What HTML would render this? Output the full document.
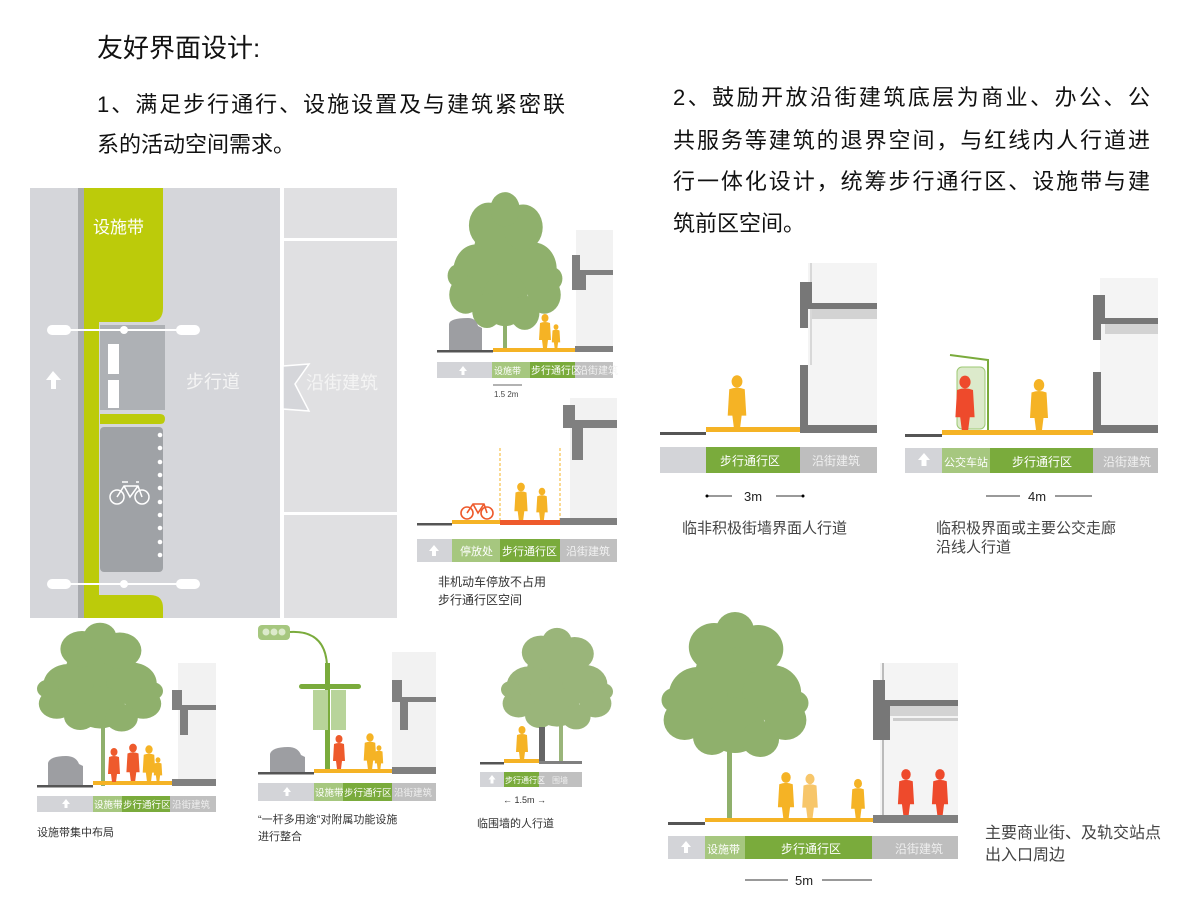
<!DOCTYPE html>
<html><head><meta charset="utf-8"><style>
html,body{margin:0;padding:0;background:#fff;width:1200px;height:900px;overflow:hidden}
svg{display:block}
text{font-family:"Liberation Sans","Noto Sans CJK SC",sans-serif}
</style></head><body>
<svg width="1200" height="900" viewBox="0 0 1200 900" xmlns="http://www.w3.org/2000/svg">
<defs>
<g id="tree">
<circle cx="0" cy="-40" r="38"/><circle cx="-35" cy="-20" r="28"/><circle cx="35" cy="-22" r="28"/>
<circle cx="-20" cy="-68" r="24"/><circle cx="22" cy="-66" r="24"/><circle cx="0" cy="-85" r="18"/><circle cx="-48" cy="5" r="20"/>
<circle cx="48" cy="5" r="20"/><circle cx="-58" cy="-15" r="12"/><circle cx="58" cy="-12" r="12"/><circle cx="0" cy="10" r="28"/><circle cx="-22" cy="22" r="18"/><circle cx="24" cy="24" r="18"/>
</g>
<g id="per"><ellipse cx="0" cy="-30" rx="3.5" ry="4"/><path d="M-5,-25 Q0,-27 5,-25 L6,-8 L3,-8 L2,0 L-2,0 L-3,-8 L-6,-8Z"/></g>
</defs>

<!-- headings -->
<text x="97" y="57" font-size="26" fill="#111">友好界面设计:</text>
<text x="97" y="112" font-size="22" fill="#111" textLength="468">1、满足步行通行、设施设置及与建筑紧密联</text>
<text x="97" y="152" font-size="22" fill="#111">系的活动空间需求。</text>
<text x="673" y="105" font-size="22" fill="#111" textLength="477">2、鼓励开放沿街建筑底层为商业、办公、公</text>
<text x="673" y="148" font-size="22" fill="#111" textLength="477">共服务等建筑的退界空间，与红线内人行道进</text>
<text x="673" y="189" font-size="22" fill="#111" textLength="477">行一体化设计，统筹步行通行区、设施带与建</text>
<text x="673" y="231" font-size="22" fill="#111">筑前区空间。</text>

<!-- plan view -->
<rect x="30" y="188" width="367" height="430" fill="#d5d6da"/>
<rect x="78" y="188" width="6" height="430" fill="#a9abaf"/>
<rect x="84" y="188" width="15" height="430" fill="#bccb0a"/>
<path d="M84,188 H163 V308 Q163,322 150,322 H84Z" fill="#bccb0a"/>
<rect x="100" y="325" width="65" height="85" fill="#aeb1b5"/>
<path d="M100,414 H160 Q165,414 165,419 Q165,424 160,424 H100Z" fill="#bccb0a"/>
<rect x="100" y="427" width="63" height="145" rx="4" fill="#9fa2a6"/>
<path d="M84,595 H150 Q163,595 163,608 V618 H84Z" fill="#bccb0a"/>
<rect x="108" y="344" width="11" height="30" fill="#fff"/>
<rect x="108" y="380" width="11" height="28" fill="#fff"/>
<g fill="#fff"><circle cx="160" cy="435" r="2.3"/><circle cx="160" cy="448" r="2.3"/><circle cx="160" cy="462" r="2.3"/><circle cx="160" cy="475" r="2.3"/><circle cx="160" cy="488" r="2.3"/><circle cx="160" cy="502" r="2.3"/><circle cx="160" cy="515" r="2.3"/><circle cx="160" cy="528" r="2.3"/><circle cx="160" cy="542" r="2.3"/><circle cx="160" cy="555" r="2.3"/></g>
<g stroke="#fff" fill="none"><line x1="50" y1="330" x2="198" y2="330" stroke-width="2"/><line x1="50" y1="584" x2="198" y2="584" stroke-width="2"/></g>
<g fill="#fff"><rect x="47" y="325" width="24" height="10" rx="5"/><rect x="176" y="325" width="24" height="10" rx="5"/><circle cx="124" cy="330" r="4"/>
<rect x="47" y="579" width="24" height="10" rx="5"/><rect x="176" y="579" width="24" height="10" rx="5"/><circle cx="124" cy="584" r="4"/></g>
<path d="M53,371 L46,380 H51 V389 H56 V380 H61Z" fill="#fff"/>
<g stroke="#fff" stroke-width="1.5" fill="none"><circle cx="117" cy="497" r="7"/><circle cx="142" cy="497" r="7"/><path d="M117,497 L124,486 H138 L142,497 M124,486 L130,497 L138,486 M122,482 H128 M136,482 L139,482"/></g>
<rect x="280" y="188" width="4" height="430" fill="#fff"/>
<rect x="284" y="188" width="113" height="430" fill="#e0e0e2"/>
<rect x="284" y="238" width="113" height="3" fill="#fff"/>
<rect x="284" y="512" width="113" height="3" fill="#fff"/>
<path d="M283,366 L309,364 L295,384 L309,411 L283,409Z" fill="#d5d6da" stroke="#fff" stroke-width="1.5"/>
<text x="93" y="233" font-size="17" fill="#fff">设施带</text>
<text x="186" y="388" font-size="18" fill="#f4f4f4">步行道</text>
<text x="306" y="389" font-size="18" fill="#f4f4f4">沿街建筑</text>

<!-- top middle section 1 -->
<g fill="#8fb06c" transform="translate(505,290) scale(0.82,0.95)"><use href="#tree"/></g>
<rect x="503" y="290" width="4" height="62" fill="#8fb06c"/>
<rect x="576" y="230" width="37" height="120" fill="#f2f2f2"/>
<path d="M572,255 H580 V270 H613 V275 H586 V290 H572Z" fill="#808080"/>
<path d="M449,324 Q450,318 468,318 Q476,318 478,326 L482,328 V350 H449Z" fill="#9d9ea2"/>
<rect x="437" y="350" width="56" height="2.5" fill="#555"/>
<rect x="493" y="348" width="82" height="4" fill="#f5b325"/>
<rect x="575" y="346" width="38" height="6" fill="#808080"/>
<g fill="#f5b325"><use href="#per" transform="translate(545,348)"/><use href="#per" transform="translate(556,348) scale(0.7)"/></g>
<rect x="437" y="362" width="55" height="16" fill="#d3d4d8"/><rect x="492" y="362" width="38" height="16" fill="#a6c77f"/><rect x="530" y="362" width="45" height="16" fill="#7aab3c"/><rect x="575" y="362" width="38" height="16" fill="#c0c0c0"/>
<text x="494" y="374" font-size="9" fill="#fff">设施带</text><text x="531" y="374" font-size="10" fill="#fff">步行通行区</text><text x="578" y="374" font-size="10" fill="#f2f2f2">沿街建筑</text>
<path d="M463,366 l-4,5 h2.5 v4 h3 v-4 h2.5Z" fill="#fff"/>
<line x1="493" y1="385" x2="522" y2="385" stroke="#333" stroke-width="0.8"/>
<text x="494" y="397" font-size="8" fill="#444">1.5  2m</text>

<!-- section 2 -->
<rect x="570" y="398" width="47" height="122" fill="#f2f2f2"/>
<path d="M563,405 H575 V420 H617 V428 H583 V460 H572 V428 H563Z" fill="#808080"/>
<line x1="500" y1="448" x2="500" y2="522" stroke="#f5b325" stroke-dasharray="3,2"/>
<line x1="560" y1="448" x2="560" y2="522" stroke="#f5b325" stroke-dasharray="3,2"/>
<rect x="417" y="523" width="35" height="2.5" fill="#555"/>
<rect x="452" y="520" width="48" height="4" fill="#f5b325"/>
<rect x="500" y="520" width="60" height="5" fill="#ee5a2c"/>
<rect x="560" y="518" width="57" height="7" fill="#808080"/>
<g stroke="#ee5a2c" stroke-width="1.6" fill="none"><circle cx="467" cy="513" r="6"/><circle cx="487" cy="513" r="6"/><path d="M467,513 L473,504 H484 L487,513 M473,504 L478,513 L484,504"/></g>
<g fill="#f5b325"><use href="#per" transform="translate(521,520) scale(1.1)"/><use href="#per" transform="translate(542,520) scale(0.95)"/></g>
<rect x="417" y="539" width="35" height="23" fill="#d3d4d8"/><rect x="452" y="539" width="48" height="23" fill="#a6c77f"/><rect x="500" y="539" width="60" height="23" fill="#7aab3c"/><rect x="560" y="539" width="57" height="23" fill="#c0c0c0"/>
<path d="M434,545 l-5,6 h3 v5 h4 v-5 h3Z" fill="#fff"/>
<text x="460" y="555" font-size="11" fill="#fff">停放处</text><text x="502" y="555" font-size="11" fill="#fff">步行通行区</text><text x="566" y="555" font-size="11" fill="#f2f2f2">沿街建筑</text>
<text x="438" y="586" font-size="12" fill="#333">非机动车停放不占用</text>
<text x="438" y="604" font-size="12" fill="#333">步行通行区空间</text>

<!-- right section A -->
<rect x="808" y="263" width="69" height="170" fill="#f4f4f4"/>
<line x1="811" y1="263" x2="811" y2="365" stroke="#bbb"/>
<path d="M800,282 H812 V303 H877 V309 H808 V328 H800Z" fill="#777"/>
<rect x="812" y="309" width="65" height="10" fill="#d3d3d3"/>
<path d="M800,365 H808 V425 H877 V433 H800Z" fill="#777"/>
<rect x="660" y="432" width="46" height="3" fill="#555"/>
<rect x="706" y="427" width="94" height="5" fill="#f5b325"/>
<use href="#per" fill="#f5b325" transform="translate(737,428) scale(1.55)"/>
<rect x="660" y="447" width="46" height="26" fill="#d3d4d8"/><rect x="706" y="447" width="94" height="26" fill="#7aab3c"/><rect x="800" y="447" width="77" height="26" fill="#bebebe"/>
<text x="720" y="465" font-size="12" fill="#fff">步行通行区</text><text x="812" y="465" font-size="12" fill="#f0f0f0">沿街建筑</text>
<g stroke="#333" stroke-width="1"><line x1="707" y1="496" x2="732" y2="496"/><line x1="776" y1="496" x2="803" y2="496"/></g>
<circle cx="707" cy="496" r="1.5"/><circle cx="803" cy="496" r="1.5"/>
<text x="744" y="501" font-size="13" fill="#222">3m</text>
<text x="682" y="533" font-size="15" fill="#444">临非积极街墙界面人行道</text>

<!-- right section B -->
<rect x="1100" y="278" width="58" height="155" fill="#f4f4f4"/>
<path d="M1093,295 H1105 V318 H1158 V324 H1101 V340 H1093Z" fill="#777"/>
<rect x="1105" y="324" width="53" height="10" fill="#d3d3d3"/>
<path d="M1093,372 H1101 V425 H1158 V433 H1093Z" fill="#777"/>
<rect x="905" y="434" width="37" height="3" fill="#555"/>
<rect x="942" y="430" width="151" height="5" fill="#f5b325"/>
<rect x="957" y="367" width="28" height="62" rx="5" fill="#dceacb" stroke="#9dc873"/>
<path d="M950,355 L988,360 V430" stroke="#7aab3c" stroke-width="2" fill="none"/>
<use href="#per" fill="#ee4a2c" transform="translate(965,430) scale(1.6)"/>
<use href="#per" fill="#f5b325" transform="translate(1039,430) scale(1.5)"/>
<rect x="905" y="448" width="37" height="25" fill="#d3d4d8"/><rect x="942" y="448" width="48" height="25" fill="#a6c77f"/><rect x="990" y="448" width="103" height="25" fill="#7aab3c"/><rect x="1093" y="448" width="65" height="25" fill="#bebebe"/>
<path d="M924,453 l-6,7 h3.5 v6 h5 v-6 h3.5Z" fill="#fff"/>
<text x="944" y="466" font-size="11" fill="#fff">公交车站</text><text x="1012" y="466" font-size="12" fill="#fff">步行通行区</text><text x="1103" y="466" font-size="12" fill="#f0f0f0">沿街建筑</text>
<g stroke="#333"><line x1="986" y1="496" x2="1020" y2="496"/><line x1="1055" y1="496" x2="1092" y2="496"/></g>
<text x="1028" y="501" font-size="13" fill="#222">4m</text>
<text x="936" y="533" font-size="15" fill="#444">临积极界面或主要公交走廊</text>
<text x="936" y="552" font-size="15" fill="#444">沿线人行道</text>

<!-- bottom B1 -->
<g fill="#8fb06c" transform="translate(100,700) scale(0.9,0.75)"><use href="#tree"/></g>
<rect x="101" y="715" width="4" height="71" fill="#8fb06c"/>
<rect x="178" y="663" width="38" height="122" fill="#f2f2f2"/>
<path d="M172,690 H182 V705 H216 V710 H188 V735 H180 V710 H172Z" fill="#808080"/>
<path d="M48,763 Q50,756 66,756 Q76,756 79,764 L83,766 V785 H48Z" fill="#9d9ea2"/>
<rect x="37" y="785" width="56" height="2.5" fill="#555"/>
<rect x="93" y="781" width="79" height="4" fill="#f5b325"/>
<rect x="172" y="779" width="44" height="7" fill="#808080"/>
<g fill="#ee5a2c"><use href="#per" transform="translate(114,782)"/><use href="#per" transform="translate(133,781) scale(1.1)"/></g>
<g fill="#f5b325"><use href="#per" transform="translate(149,781) scale(1.05)"/><use href="#per" transform="translate(158,781) scale(0.7)"/></g>
<rect x="37" y="796" width="56" height="16" fill="#d3d4d8"/><rect x="93" y="796" width="29" height="16" fill="#a6c77f"/><rect x="122" y="796" width="48" height="16" fill="#7aab3c"/><rect x="170" y="796" width="46" height="16" fill="#c0c0c0"/>
<path d="M66,799 l-4,5 h2.5 v4 h3 v-4 h2.5Z" fill="#fff"/>
<text x="94" y="808" font-size="9.5" fill="#fff">设施带</text><text x="123" y="808" font-size="9.5" fill="#fff">步行通行区</text><text x="172" y="808" font-size="9.5" fill="#eee">沿街建筑</text>
<text x="37" y="836" font-size="11" fill="#333">设施带集中布局</text>

<!-- bottom B2 -->
<rect x="258" y="625" width="32" height="15" rx="4" fill="#a6c77f"/>
<g fill="#dceacb"><circle cx="266" cy="632" r="3.5"/><circle cx="274" cy="632" r="3.5"/><circle cx="282" cy="632" r="3.5"/></g>
<path d="M290,632 Q325,630 327,665" stroke="#7aab3c" stroke-width="2" fill="none"/>
<rect x="325" y="663" width="5" height="110" fill="#7aab3c"/>
<rect x="299" y="684" width="62" height="5" rx="2.5" fill="#7aab3c"/>
<rect x="313" y="690" width="15" height="40" fill="#b8d49a"/><rect x="331" y="690" width="15" height="40" fill="#b8d49a"/>
<rect x="392" y="652" width="44" height="121" fill="#f2f2f2"/>
<path d="M392,680 H402 V697 H436 V702 H408 V730 H400 V702 H392Z" fill="#808080"/>
<path d="M270,754 Q272,747 288,747 Q298,747 301,755 L305,757 V772 H270Z" fill="#9d9ea2"/>
<rect x="258" y="772" width="56" height="2.5" fill="#555"/>
<rect x="314" y="769" width="78" height="4" fill="#f5b325"/>
<rect x="392" y="767" width="44" height="7" fill="#808080"/>
<use href="#per" fill="#ee5a2c" transform="translate(339,769)"/>
<g fill="#f5b325"><use href="#per" transform="translate(370,769) scale(1.05)"/><use href="#per" transform="translate(379,769) scale(0.7)"/></g>
<rect x="258" y="783" width="56" height="18" fill="#d3d4d8"/><rect x="314" y="783" width="29" height="18" fill="#a6c77f"/><rect x="343" y="783" width="49" height="18" fill="#7aab3c"/><rect x="392" y="783" width="44" height="18" fill="#c0c0c0"/>
<path d="M287,787 l-4,5 h2.5 v4 h3 v-4 h2.5Z" fill="#fff"/>
<text x="315" y="796" font-size="9.5" fill="#fff">设施带</text><text x="344" y="796" font-size="9.5" fill="#fff">步行通行区</text><text x="394" y="796" font-size="9.5" fill="#eee">沿街建筑</text>
<text x="258" y="823" font-size="11" fill="#333">“一杆多用途”对附属功能设施</text>
<text x="258" y="840" font-size="11" fill="#333">进行整合</text>

<!-- bottom B3 -->
<g fill="#9ab57a" transform="translate(557,700) scale(0.8,0.7)"><use href="#tree"/></g>
<rect x="559" y="712" width="4" height="51" fill="#9ab57a"/>
<rect x="480" y="762" width="24" height="2.5" fill="#555"/>
<rect x="504" y="759" width="35" height="4" fill="#f5b325"/>
<rect x="539" y="727" width="6" height="36" fill="#666"/>
<rect x="539" y="761" width="43" height="3" fill="#808080"/>
<use href="#per" fill="#f5b325" transform="translate(522,760)"/>
<rect x="480" y="772" width="24" height="15" fill="#d3d4d8"/><rect x="504" y="772" width="35" height="15" fill="#7aab3c"/><rect x="539" y="772" width="43" height="15" fill="#c0c0c0"/>
<path d="M492,775 l-3.5,4.5 h2 v4 h3 v-4 h2Z" fill="#fff"/>
<text x="505" y="783" font-size="8" fill="#fff">步行通行区</text><text x="552" y="783" font-size="8" fill="#eee">围墙</text>
<text x="503" y="803" font-size="9" fill="#333">← 1.5m →</text>
<text x="477" y="827" font-size="11" fill="#333">临围墙的人行道</text>

<!-- bottom B4 -->
<g fill="#8fb06c" transform="translate(735,715) scale(1.05,1.0)"><use href="#tree"/></g>
<rect x="727" y="735" width="5" height="85" fill="#8fb06c"/>
<rect x="880" y="663" width="78" height="160" fill="#f4f4f4"/>
<line x1="883" y1="663" x2="883" y2="815" stroke="#bbb" stroke-width="2"/>
<path d="M873,680 H885 V700 H958 V706 H890 V740 H873Z" fill="#777"/>
<rect x="890" y="706" width="68" height="10" fill="#d3d3d3"/>
<rect x="893" y="718" width="65" height="3" fill="#ccc"/>
<rect x="668" y="822" width="37" height="3" fill="#555"/>
<rect x="705" y="818" width="168" height="4" fill="#f5b325"/>
<rect x="873" y="815" width="85" height="8" fill="#808080"/>
<g fill="#f5b325"><use href="#per" transform="translate(786,818) scale(1.35)"/><use href="#per" transform="translate(810,818) scale(1.3)" fill="#f7c66a"/><use href="#per" transform="translate(858,818) scale(1.15)"/></g>
<g fill="#ee4a2c"><use href="#per" transform="translate(906,815) scale(1.35)"/><use href="#per" transform="translate(940,815) scale(1.35)"/></g>
<rect x="668" y="836" width="37" height="23" fill="#d3d4d8"/><rect x="705" y="836" width="40" height="23" fill="#a6c77f"/><rect x="745" y="836" width="127" height="23" fill="#7aab3c"/><rect x="872" y="836" width="86" height="23" fill="#bebebe"/>
<path d="M686,841 l-5,6 h3 v6 h4 v-6 h3Z" fill="#fff"/>
<text x="707" y="853" font-size="11" fill="#fff">设施带</text><text x="781" y="853" font-size="12" fill="#fff">步行通行区</text><text x="895" y="853" font-size="12" fill="#eee">沿街建筑</text>
<g stroke="#333"><line x1="745" y1="880" x2="788" y2="880"/><line x1="822" y1="880" x2="872" y2="880"/></g>
<text x="795" y="885" font-size="13" fill="#222">5m</text>
<text x="985" y="838" font-size="16" fill="#444">主要商业街、及轨交站点</text>
<text x="985" y="860" font-size="16" fill="#444">出入口周边</text>
</svg>
</body></html>
